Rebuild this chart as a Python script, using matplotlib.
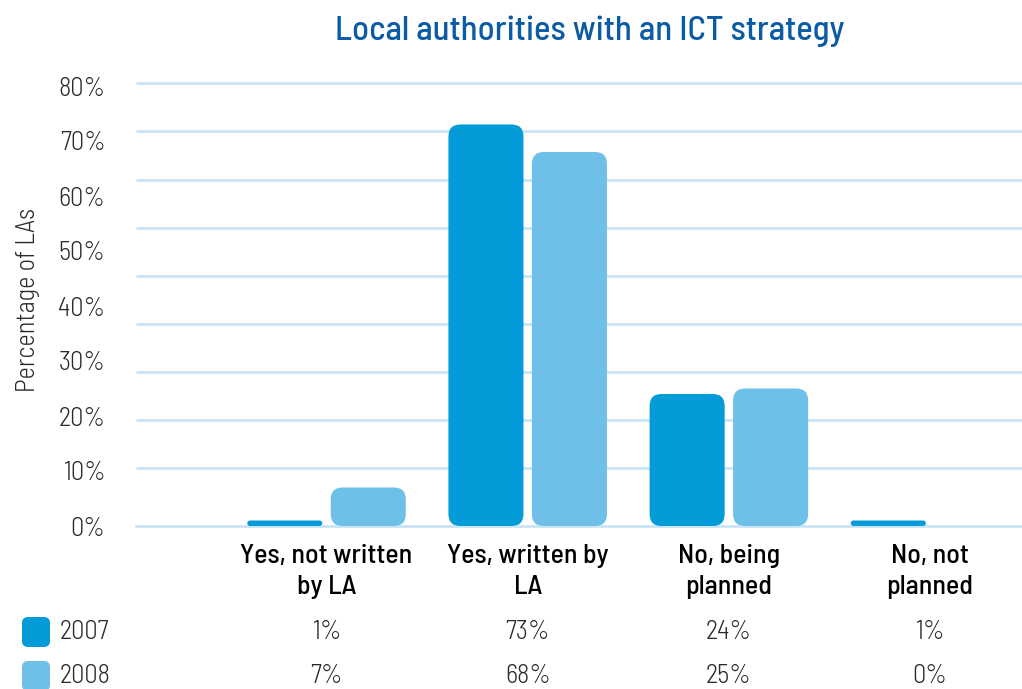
import matplotlib
matplotlib.use('Agg')
import matplotlib.pyplot as plt
from matplotlib.patches import FancyBboxPatch
from matplotlib.transforms import blended_transform_factory
import numpy as np

# ---- data ----
categories = ['Yes, not written\nby LA', 'Yes, written by\nLA', 'No, being\nplanned', 'No, not\nplanned']
years = ['2007', '2008']
values_2007 = [1, 73, 24, 1]
values_2008 = [7, 68, 25, 0]
yticks = [0, 10, 20, 30, 40, 50, 60, 70, 80]
ytick_labels = ['0%', '10%', '20%', '30%', '40%', '50%', '60%', '70%', '80%']
title = 'Local authorities with an ICT strategy'
ylabel = 'Percentage of LAs'

# ---- style ----
FONT = ['Barlow Semi Condensed', 'DejaVu Sans']
plt.rcParams['font.family'] = FONT
C2007 = '#039BD8'
C2008 = '#6FC0E8'
GRID = '#C9E4F5'
TITLE_C = '#0B5BA5'
LIGHT_TXT = '#2a2a2a'

W, H = 1022, 689
fig = plt.figure(figsize=(W / 100, H / 100), dpi=100)
ax_l, ax_r, ax_b, ax_t = 136, 1022, 526, 75
ax = fig.add_axes([ax_l / W, (H - ax_b) / H, (ax_r - ax_l) / W, (ax_b - ax_t) / H])
xmin, xmax = -0.947, 3.457
ymin, ymax = 0, 82
ax.set_xlim(xmin, xmax)
ax.set_ylim(ymin, ymax)

px_x = (ax_r - ax_l) / (xmax - xmin)
px_y = (ax_b - ax_t) / (ymax - ymin)
aspect = px_x / px_y

# grid lines (style, as in reference)
grid_levels = np.linspace(10.5, 80.5, 9)
ax.hlines(grid_levels, xmin, xmax, colors=GRID, linewidth=2.0, zorder=0)

for s in ['top', 'right', 'left']:
    ax.spines[s].set_visible(False)
ax.spines['bottom'].set_color(GRID)
ax.spines['bottom'].set_linewidth(2.0)
ax.spines['bottom'].set_zorder(0)

bw = 0.373
off = 0.2075
x = np.arange(len(categories))

def rbar(xc, h, color):
    if h <= 0:
        return
    r_px = min(12.0, h * px_y / 2.0, bw * px_x / 2.0)
    p = FancyBboxPatch((xc - bw / 2, 0), bw, h,
                       boxstyle=f'round,pad=0,rounding_size={r_px / px_x}',
                       mutation_aspect=aspect, facecolor=color, edgecolor='none',
                       zorder=3)
    ax.add_patch(p)

for xi, v in zip(x, values_2007):
    rbar(xi - off, v, C2007)
for xi, v in zip(x, values_2008):
    rbar(xi + off, v, C2008)

ax.set_yticks(yticks)
ax.set_yticklabels(ytick_labels, fontsize=19, color=LIGHT_TXT, fontweight=300)
ax.tick_params(axis='y', length=0, pad=22)
ax.set_xticks(x)
ax.set_xticklabels(categories, fontsize=20, color='#000000', fontweight=500,
                   linespacing=1.38)
ax.tick_params(axis='x', length=0, pad=13)

fig.text(28 / W, 1 - 300 / H, ylabel, rotation=90, ha='center', va='center',
         fontsize=19, color=LIGHT_TXT, fontweight=300)
fig.text(590 / W, 1 - 31 / H, title, ha='center', va='center', fontsize=25,
         color=TITLE_C, fontweight=500)

# data table
tr = blended_transform_factory(ax.transData, fig.transFigure)
rows = [(values_2007, C2007, 632), (values_2008, C2008, 676)]
for (vals, col, ypx), yr in zip(rows, years):
    for xi, v in zip(x, vals):
        ax.text(xi, 1 - ypx / H, f'{v}%', transform=tr, ha='center', va='center',
                fontsize=19, color=LIGHT_TXT, fontweight=300, clip_on=False)
    sq = FancyBboxPatch((22 / W, 1 - (ypx + 15) / H), 28 / W, 30 / H,
                        boxstyle='round,pad=0,rounding_size=0.006',
                        mutation_aspect=W / H,
                        transform=fig.transFigure, facecolor=col, edgecolor='none')
    fig.patches.append(sq)
    fig.text(60 / W, 1 - ypx / H, yr, ha='left', va='center', fontsize=19,
             color=LIGHT_TXT, fontweight=300)

fig.savefig('out.png', dpi=100)
